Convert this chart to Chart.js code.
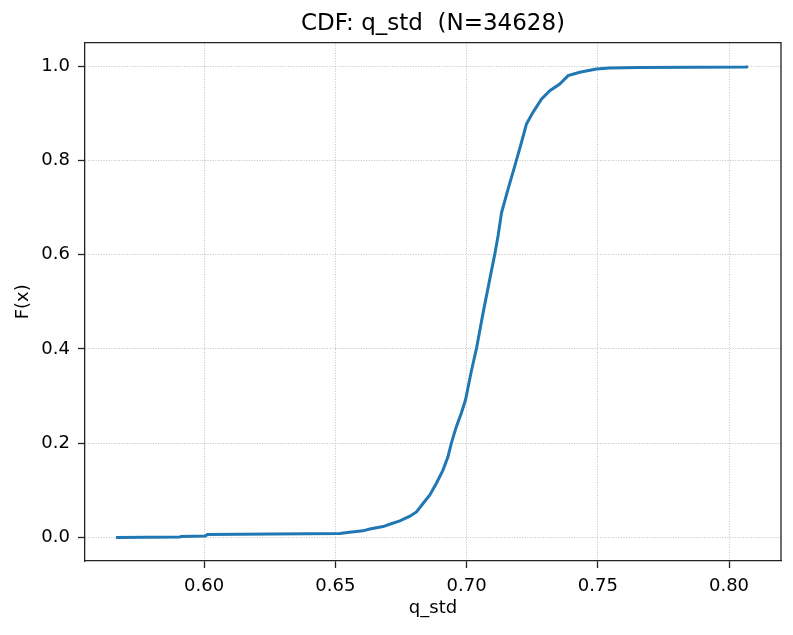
<!DOCTYPE html>
<html>
<head>
<meta charset="utf-8">
<script src="https://cdn.jsdelivr.net/npm/chart.js@4/dist/chart.umd.min.js"></script>
<style>
  html, body { margin: 0; padding: 0; background: #fff; }
  #wrap { width: 793px; height: 635px; }
</style>
</head>
<body>
<div id="wrap"><canvas id="cdf" width="793" height="635"></canvas></div>
<script>
// values
const qStd = [0.5664, 0.5908, 0.5912, 0.6005, 0.6012, 0.6390, 0.6517, 0.6554, 0.6605, 0.6631,
              0.6682, 0.6707, 0.6746, 0.6784, 0.6809, 0.6834, 0.6860, 0.6885, 0.6910, 0.6929,
              0.6942, 0.6961, 0.6980, 0.6996, 0.7017, 0.7038, 0.7063, 0.7088, 0.7107, 0.7120,
              0.7133, 0.7158, 0.7184, 0.7209, 0.7228, 0.7253, 0.7285, 0.7317, 0.7355, 0.7387,
              0.7431, 0.7495, 0.7545, 0.7659, 0.8066, 0.8072]
const cdf = [0.000, 0.001, 0.002, 0.003, 0.006, 0.008, 0.0085, 0.011, 0.014, 0.018,
             0.023, 0.028, 0.035, 0.045, 0.054, 0.072, 0.090, 0.115, 0.143, 0.171,
             0.200, 0.235, 0.264, 0.292, 0.350, 0.402, 0.477, 0.547, 0.600, 0.640,
             0.689, 0.739, 0.789, 0.838, 0.877, 0.902, 0.930, 0.948, 0.962, 0.980,
             0.987, 0.994, 0.996, 0.997, 0.998, 1.000]
const xTicks = [0.60, 0.65, 0.70, 0.75, 0.80]
const yTicks = [0.0, 0.2, 0.4, 0.6, 0.8, 1.0]
const titleText = 'CDF: q_std  (N=34628)'

const FONT = 'DejaVu Sans'

// matplotlib draws a closed box round the axes
const boxPlugin = {
    id: 'box',
    afterDraw(chart) {
        const { ctx, chartArea: a } = chart
        ctx.save()
        ctx.strokeStyle = '#222'
        ctx.lineWidth = 1.3
        ctx.beginPath()
        ctx.moveTo(a.left, a.top)
        ctx.lineTo(a.right, a.top)
        ctx.lineTo(a.right, a.bottom)
        ctx.stroke()
        ctx.restore()
    }
}

const gridOpts = {
    color: '#b0b0b0',
    lineWidth: 0.8,
    tickLength: 7,
    tickColor: '#222',
    tickWidth: 1.3
}
const borderOpts = { color: '#222', width: 1.3, dash: [1, 1.6] }

new Chart(document.getElementById('cdf').getContext('2d'), {
    type: 'line',
    data: {
        datasets: [{
            data: qStd.map((v, i) => ({ x: v, y: cdf[i] })),
            borderColor: '#1f77b4',
            borderWidth: 3,
            pointRadius: 0,
            tension: 0,
            fill: false
        }]
    },
    options: {
        responsive: false,
        animation: false,
        devicePixelRatio: 1,
        layout: { padding: { left: 0, right: 12, top: 0, bottom: 0 } },
        plugins: {
            legend: { display: false },
            tooltip: { enabled: false },
            title: {
                display: true,
                fullSize: false,
                text: titleText,
                color: '#000',
                font: { family: FONT, size: 23, weight: 'normal' },
                padding: { top: 10, bottom: 5 }
            }
        },
        scales: {
            x: {
                type: 'linear',
                min: 0.5546,
                max: 0.8198,
                afterBuildTicks(scale) { scale.ticks = xTicks.map(v => ({ value: v })) },
                afterFit(scale) { scale.height = 74 },
                ticks: {
                    color: '#000',
                    padding: 8,
                    maxRotation: 0,
                    font: { family: FONT, size: 18 },
                    callback: v => v.toFixed(2)
                },
                grid: gridOpts,
                border: borderOpts,
                title: {
                    display: true,
                    text: 'q_std',
                    color: '#000',
                    font: { family: FONT, size: 18 },
                    padding: { top: 0, bottom: 16 }
                }
            },
            y: {
                type: 'linear',
                min: -0.05,
                max: 1.05,
                afterBuildTicks(scale) { scale.ticks = yTicks.map(v => ({ value: v })) },
                afterFit(scale) { scale.width = 85 },
                ticks: {
                    color: '#000',
                    padding: 8,
                    font: { family: FONT, size: 18 },
                    callback: v => v.toFixed(1)
                },
                grid: gridOpts,
                border: borderOpts,
                title: {
                    display: true,
                    text: 'F(x)',
                    color: '#000',
                    font: { family: FONT, size: 18 },
                    padding: { top: 13, bottom: 0 }
                }
            }
        }
    },
    plugins: [boxPlugin]
})
</script>
</body>
</html>
